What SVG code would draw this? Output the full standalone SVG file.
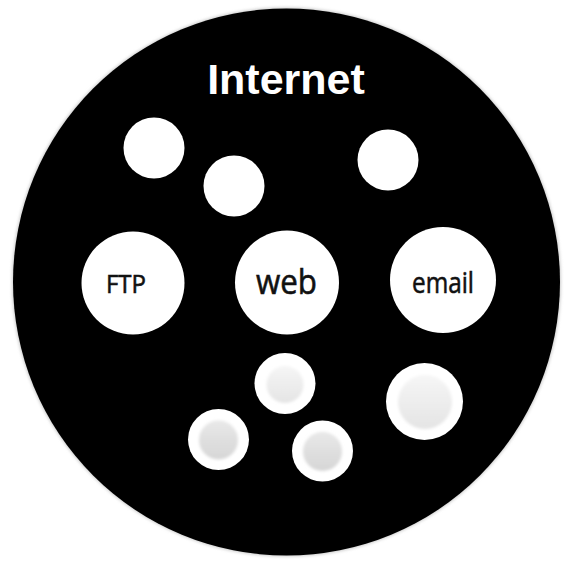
<svg xmlns="http://www.w3.org/2000/svg" width="567" height="562" viewBox="0 0 567 562">
  <style>
    .disc { fill: #ffffff; }
    .lbl { font-family: "Open Sans", "Noto Sans", "Liberation Sans", sans-serif; fill: #111111; stroke: #111111; stroke-width: 0.6; text-anchor: middle; }
    .title { font-family: "Liberation Sans", Arial, sans-serif; font-weight: bold; fill: #ffffff; text-anchor: middle; }
  </style>
  <defs>
    <linearGradient id="gLight" x1="0" y1="0" x2="0" y2="1">
      <stop offset="0" stop-color="#f6f6f6"/>
      <stop offset="1" stop-color="#e4e4e4"/>
    </linearGradient>
    <linearGradient id="gDark" x1="0" y1="0" x2="0" y2="1">
      <stop offset="0" stop-color="#e8e8e8"/>
      <stop offset="1" stop-color="#d6d6d6"/>
    </linearGradient>
    <filter id="soft" x="-20%" y="-20%" width="140%" height="140%">
      <feGaussianBlur stdDeviation="1.6"/>
    </filter>
  </defs>
  <rect width="567" height="562" fill="#ffffff"/>
  <g id="internet">
    <circle cx="286.5" cy="282" r="274.5" fill="#cccccc" filter="url(#soft)"/>
    <circle cx="286.5" cy="282" r="273.5" fill="#000000"/>
    <text class="title" x="286" y="94" font-size="43">Internet</text>
  </g>
  <g id="connectors"/>
  <g id="node-small-1"><circle class="disc" cx="154" cy="148" r="30.5"/></g>
  <g id="node-small-2"><circle class="disc" cx="234" cy="186" r="30.5"/></g>
  <g id="node-small-3"><circle class="disc" cx="388" cy="160" r="30.5"/></g>
  <g id="node-ftp">
    <circle class="disc" cx="133" cy="283" r="51.5"/>
    <text class="lbl" x="126" y="293" font-size="26" textLength="40" lengthAdjust="spacingAndGlyphs">FTP</text>
  </g>
  <g id="node-web">
    <circle class="disc" cx="287" cy="282.5" r="52"/>
    <text class="lbl" x="286.5" y="294" font-size="34" textLength="61" lengthAdjust="spacingAndGlyphs">web</text>
  </g>
  <g id="node-email">
    <circle class="disc" cx="443" cy="280" r="53"/>
    <text class="lbl" x="443" y="293" font-size="30" textLength="62" lengthAdjust="spacingAndGlyphs">email</text>
  </g>
  <g id="node-device-1">
    <circle class="disc" cx="285" cy="383.5" r="30.5"/>
    <circle cx="285" cy="384.5" r="18.5" fill="url(#gLight)" filter="url(#soft)"/>
  </g>
  <g id="node-device-2">
    <circle class="disc" cx="218.5" cy="439.5" r="30.5"/>
    <circle cx="218.5" cy="440" r="19.5" fill="url(#gDark)" filter="url(#soft)"/>
  </g>
  <g id="node-device-3">
    <circle class="disc" cx="322.5" cy="451" r="30.5"/>
    <circle cx="322.5" cy="451.5" r="19.5" fill="url(#gDark)" filter="url(#soft)"/>
  </g>
  <g id="node-device-4">
    <circle class="disc" cx="424.5" cy="401.5" r="38.5"/>
    <circle cx="425" cy="402" r="27" fill="url(#gLight)" filter="url(#soft)"/>
  </g>
</svg>
